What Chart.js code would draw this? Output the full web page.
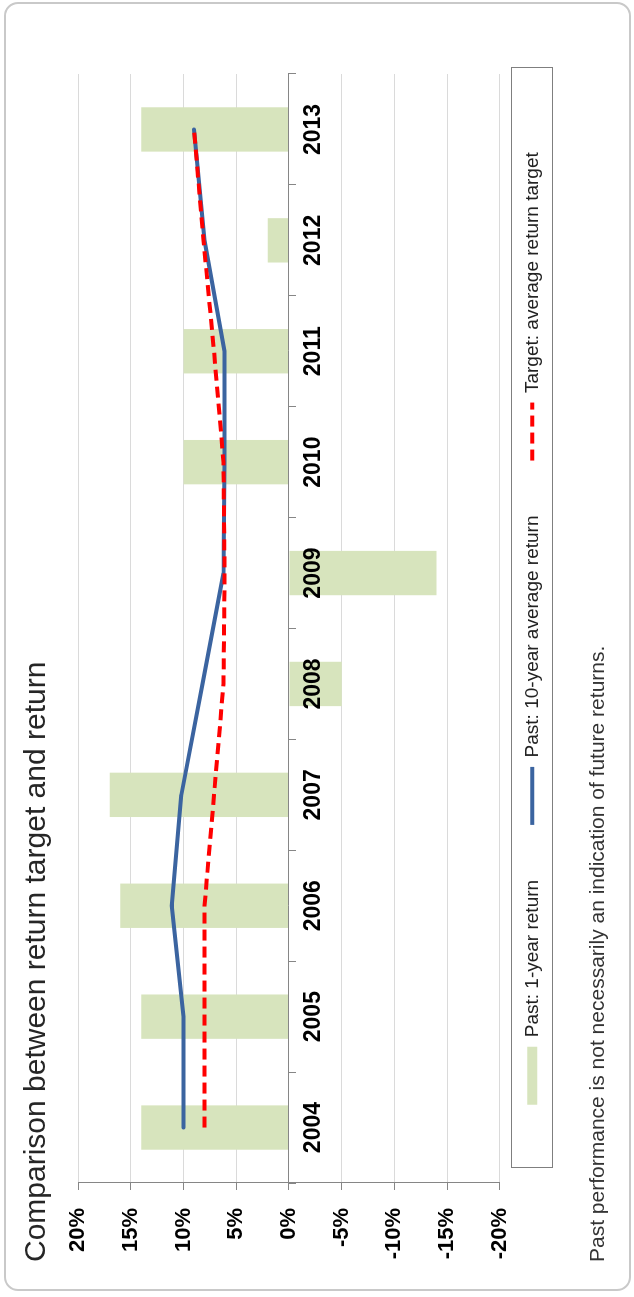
<!DOCTYPE html>
<html>
<head>
<meta charset="utf-8">
<title>Comparison between return target and return</title>
<script src="https://cdn.jsdelivr.net/npm/chart.js@4.4.1/dist/chart.umd.min.js"></script>
<style>
  html, body { margin: 0; padding: 0; background: #fff; overflow: hidden; }
  /* chart is laid out landscape, then turned a quarter to the left */
  #sheet {
    position: absolute; left: 0; top: 0;
    width: 1297px; height: 634px;
    transform-origin: 0 0;
    transform: translateY(1297px) rotate(-90deg);
  }
  #frame {
    position: absolute; left: 6px; top: 4px; width: 1289px; height: 627px;
    box-sizing: border-box; border: 2px solid #c9c9c9; border-radius: 14px;
  }
  #chart { position: absolute; left: 0; top: 0; }
</style>
</head>
<body>
<div id="sheet">
  <div id="frame"></div>
  <canvas id="chart" width="1297" height="634"></canvas>
</div>
<script>
const years = ['2004', '2005', '2006', '2007', '2008', '2009', '2010', '2011', '2012', '2013'];
const oneYearReturn = [14, 14, 16, 17, -5, -14, 10, 10, 2, 14];
const tenYearAverage = [10, 10, 11.1, 10.2, 8.2, 6.2, 6.1, 6.1, 8.0, 9.0];
const returnTarget = [8.0, 8.0, 8.0, 7.1, 6.2, 6.1, 6.2, 7.1, 8.1, 9.0];
const valueTicks = [20, 15, 10, 5, 0, -5, -10, -15, -20];
const seriesNames = ['Past: 1-year return', 'Past: 10-year average return', 'Target: average return target'];

const narrow = "'Liberation Sans Narrow', 'Arial Narrow', 'Liberation Sans', Arial, sans-serif";
const plain = "'Liberation Sans', Arial, sans-serif";
const axisGrey = '#868686';

// legend sits close under the plot and gets a thin box round it
const legendFrame = {
  id: 'legendFrame',
  afterLayout(chart) {
    chart.legend.top -= 32;
    chart.legend.bottom -= 32;
  },
  afterDraw(chart) {
    const { ctx, chartArea, legend } = chart;
    ctx.save();
    ctx.strokeStyle = '#7f7f7f';
    ctx.lineWidth = 1;
    ctx.strokeRect(Math.round(chartArea.left) + 15.5, Math.round(legend.top) + 43.5,
      chartArea.right - chartArea.left - 9, 41);
    ctx.restore();
  }
};

new Chart(document.getElementById('chart'), {
  type: 'bar',
  data: {
    labels: years,
    datasets: [
      {
        type: 'bar',
        label: seriesNames[0],
        data: oneYearReturn,
        backgroundColor: '#d7e4bd',
        barPercentage: 0.4,
        categoryPercentage: 1.0,
        order: 3
      },
      {
        type: 'line',
        label: seriesNames[1],
        data: tenYearAverage,
        borderColor: '#3b64a0',
        borderWidth: 4,
        borderCapStyle: 'round',
        borderJoinStyle: 'round',
        pointRadius: 0,
        tension: 0,
        order: 2
      },
      {
        type: 'line',
        label: seriesNames[2],
        data: returnTarget,
        borderColor: '#ff0000',
        borderWidth: 4,
        borderDash: [11, 6],
        pointRadius: 0,
        tension: 0,
        order: 1
      }
    ]
  },
  options: {
    responsive: false,
    animation: false,
    devicePixelRatio: 1,
    events: [],
    layout: { padding: { left: 35, right: 74, top: 0, bottom: 0 } },
    scales: {
      x: {
        position: { y: 0 },
        offset: true,
        grid: { drawOnChartArea: false, offset: true, tickLength: 7, color: axisGrey, tickColor: axisGrey },
        border: { color: axisGrey, z: 1 },
        ticks: {
          z: 1,
          color: '#000',
          padding: 4,
          maxRotation: 0,
          autoSkip: false,
          font: { family: narrow, size: 23, weight: 'bold' }
        }
      },
      y: {
        min: -20,
        max: 20,
        afterBuildTicks: scale => { scale.ticks = valueTicks.map(v => ({ value: v })); },
        afterFit: scale => { scale.width = 79; },
        grid: { color: '#dadada', tickColor: axisGrey, tickLength: 7 },
        border: { color: axisGrey },
        ticks: {
          color: '#000',
          padding: 18,
          font: { family: narrow, size: 22, weight: 'bold' },
          callback: v => v + '%'
        }
      }
    },
    plugins: {
      title: {
        display: true,
        text: 'Comparison between return target and return',
        align: 'start',
        color: '#262626',
        font: { family: plain, size: 30, weight: 'normal' },
        padding: { top: 19, bottom: 23 }
      },
      subtitle: {
        display: true,
        position: 'bottom',
        text: 'Past performance is not necessarily an indication of future returns.',
        align: 'start',
        color: '#333',
        font: { family: plain, size: 21, weight: 'normal' },
        padding: { top: 1.5, bottom: 23.5 }
      },
      legend: {
        position: 'bottom',
        fullSize: false,
        labels: {
          color: '#222',
          font: { family: plain, size: 19 },
          padding: 55,
          usePointStyle: true,
          pointStyleWidth: 58,
          boxHeight: 10,
          generateLabels: chart => chart.data.datasets.map((ds, i) => ({
            text: ds.label,
            datasetIndex: i,
            fillStyle: ds.type === 'bar' ? ds.backgroundColor : 'transparent',
            strokeStyle: ds.type === 'bar' ? ds.backgroundColor : ds.borderColor,
            lineWidth: ds.type === 'bar' ? 0 : ds.borderWidth,
            lineDash: ds.borderDash || [],
            pointStyle: ds.type === 'bar' ? 'rect' : 'line',
            fontColor: '#222',
            hidden: false
          }))
        }
      },
      tooltip: { enabled: false }
    }
  },
  plugins: [legendFrame]
});
</script>
</body>
</html>
